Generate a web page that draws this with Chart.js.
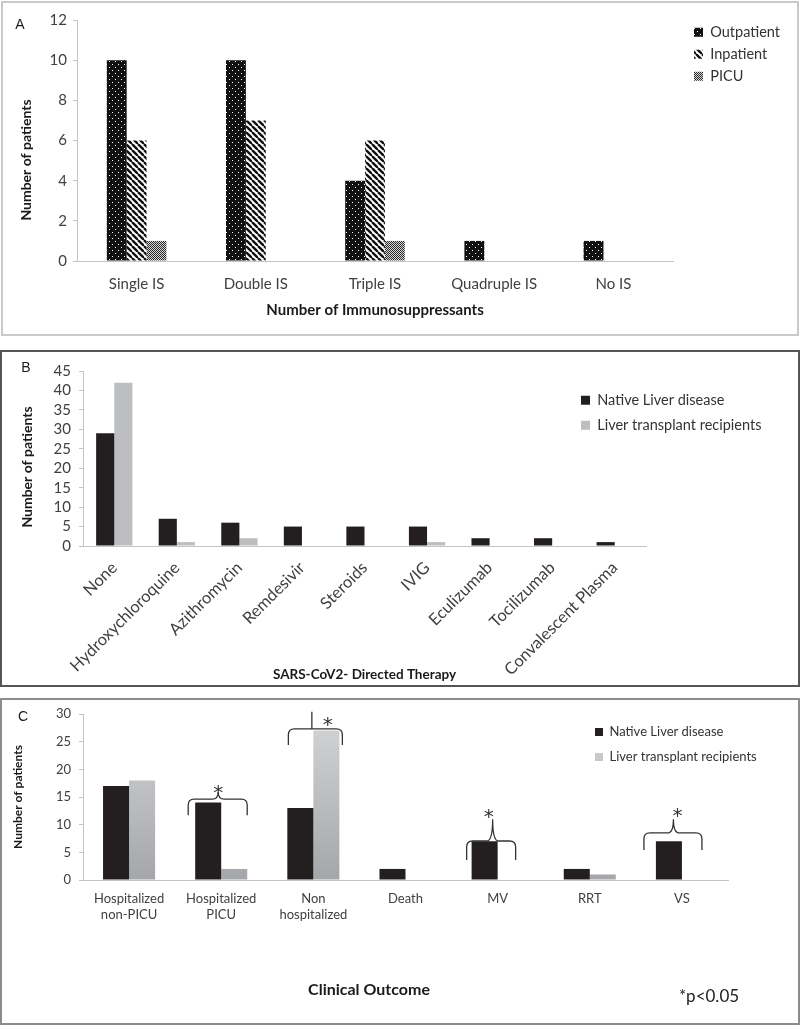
<!DOCTYPE html>
<html>
<head>
<meta charset="utf-8">
<script src="https://cdn.jsdelivr.net/npm/chart.js@4.4.1/dist/chart.umd.min.js"></script>
<style>
  body { margin: 0; background: #fff; }
  .panel { position: absolute; box-sizing: border-box; }
  canvas { position: absolute; left: 0; }
</style>
</head>
<body>
<div class="panel" style="left:1px;top:1px;width:798px;height:335px;border:2px solid #c9c9c9"></div>
<div class="panel" style="left:0;top:350px;width:800px;height:337px;border:2px solid #555"></div>
<div class="panel" style="left:0;top:698px;width:800px;height:327px;border:2px solid #8c8c8c"></div>
<canvas id="chartA" style="top:0" width="800" height="336"></canvas>
<canvas id="chartB" style="top:350px" width="800" height="338"></canvas>
<canvas id="chartC" style="top:698px" width="800" height="328"></canvas>
<script>
// Panel A - immunosuppressants
const isCategories = ['Single IS', 'Double IS', 'Triple IS', 'Quadruple IS', 'No IS'];
const outpatient = [10, 10, 4, 1, 1];
const inpatient = [6, 7, 6, 0, 0];
const picu = [1, 0, 1, 0, 0];

// Panel B - directed therapy
const therapies = ['None', 'Hydroxychloroquine', 'Azithromycin', 'Remdesivir', 'Steroids', 'IVIG', 'Eculizumab', 'Tocilizumab', 'Convalescent Plasma'];
const therapyNative = [29, 7, 6, 5, 5, 5, 2, 2, 1];
const therapyTransplant = [42, 1, 2, 0, 0, 1, 0, 0, 0];

// Panel C - clinical outcome
const outcomes = [['Hospitalized', 'non-PICU'], ['Hospitalized', 'PICU'], ['Non', 'hospitalized'], 'Death', 'MV', 'RRT', 'VS'];
const outcomeNative = [17, 14, 13, 2, 7, 2, 7];
const outcomeTransplant = [18, 2, 27, 0, 0, 1, 0];

// significance braces on panel C (category index + shape, offsets in px)
const braces = [
  { i: 1, l: -33, r: 26, m: -3, top: 14.6, end: 11.7, peak: 15.9, sx: -3, sy: 16.4, stem: false },
  { i: 2, l: -25, r: 29, m: -1.5, top: 27.3, end: 24.4, peak: 30.4, sx: 14.5, sy: 28.7, stem: true },
  { i: 4, l: -31, r: 18, m: -5, top: 7.05, end: 3.6, peak: 11.0, sx: -9, sy: 12.1, stem: false },
  { i: 6, l: -38, r: 20, m: -8.5, top: 8.5, end: 5.4, peak: 11.0, sx: -4.5, sy: 12.4, stem: false }
];

Chart.defaults.font.family = 'Lato, "Open Sans", sans-serif';
Chart.defaults.color = '#404040';
Chart.defaults.animation = false;

const BLACK = '#231f20';
const GRAY = '#bcbec0';
const AXIS = '#c4c4c4';

function makePattern(size, draw) {
  const c = document.createElement('canvas');
  c.width = c.height = size;
  const g = c.getContext('2d');
  draw(g, size);
  return g.createPattern(c, 'repeat');
}

const dots = makePattern(6, (g, s) => {
  g.fillStyle = '#111'; g.fillRect(0, 0, s, s);
  g.fillStyle = '#fff';
  g.fillRect(1, 1, 1, 1); g.fillRect(4, 4, 1, 1);
});
const stripes = makePattern(6, (g, s) => {
  g.fillStyle = '#fff'; g.fillRect(0, 0, s, s);
  g.strokeStyle = '#111'; g.lineWidth = 2.4;
  for (let k = -s; k <= s; k += s) {
    g.beginPath(); g.moveTo(k, 0); g.lineTo(k + s, s); g.stroke();
  }
});
const mesh = makePattern(2, (g) => {
  g.fillStyle = '#d6d6d6'; g.fillRect(0, 0, 2, 2);
  g.fillStyle = '#2a2a2a'; g.fillRect(0, 0, 1, 1); g.fillRect(1, 1, 1, 1);
});

function grayGradient(ctx) {
  const area = ctx.chart.chartArea;
  if (!area) return GRAY;
  const g = ctx.chart.ctx.createLinearGradient(0, area.top, 0, area.bottom);
  g.addColorStop(0, '#d4d5d7');
  g.addColorStop(1, '#a4a6a9');
  return g;
}

// legend placement, free text and braces
const overlay = {
  id: 'overlay',
  afterLayout(chart, args, opts) {
    const lg = chart.legend;
    if (lg && opts.legendAt) {
      const p = chart.options.plugins.legend.labels.padding;
      lg.left = opts.legendAt[0] - p;
      lg.top = opts.legendAt[1] - p;
      lg.right = chart.width;
      lg.bottom = chart.height;
    }
  },
  afterDatasetsDraw(chart, args, opts) {
    if (!opts.braces) return;
    const ctx = chart.ctx;
    const x = chart.scales.x, y = chart.scales.y;
    ctx.save();
    ctx.strokeStyle = '#333';
    ctx.lineWidth = 1.3;
    opts.braces.forEach(b => {
      const c = x.getPixelForValue(b.i);
      const xl = c + b.l, xr = c + b.r, xm = c + b.m;
      const yt = y.getPixelForValue(b.top), ye = y.getPixelForValue(b.end), yp = y.getPixelForValue(b.peak);
      const r = 6;
      ctx.beginPath();
      ctx.moveTo(xl, ye);
      ctx.lineTo(xl, yt + r);
      ctx.quadraticCurveTo(xl, yt, xl + r, yt);
      if (b.stem) {
        ctx.lineTo(xr - r, yt);
      } else {
        ctx.lineTo(xm - r, yt);
        ctx.quadraticCurveTo(xm, yt, xm, yp);
        ctx.quadraticCurveTo(xm, yt, xm + r, yt);
        ctx.lineTo(xr - r, yt);
      }
      ctx.quadraticCurveTo(xr, yt, xr, yt + r);
      ctx.lineTo(xr, ye);
      ctx.stroke();
      if (b.stem) {
        ctx.beginPath(); ctx.moveTo(xm, yt); ctx.lineTo(xm, yp); ctx.stroke();
      }
      ctx.fillStyle = '#333';
      ctx.font = '20px "DejaVu Sans"';
      ctx.textAlign = 'center';
      ctx.textBaseline = 'middle';
      ctx.fillText('*', c + b.sx, y.getPixelForValue(b.sy) + 5);
    });
    ctx.restore();
  },
  afterDraw(chart, args, opts) {
    const ctx = chart.ctx;
    (opts.texts || []).forEach(t => {
      ctx.save();
      ctx.translate(t.x, t.y);
      if (t.rot) ctx.rotate(t.rot);
      ctx.font = t.font;
      ctx.fillStyle = t.color || '#1a1a1a';
      ctx.textAlign = 'center';
      ctx.textBaseline = 'middle';
      ctx.fillText(t.text, 0, 0);
      ctx.restore();
    });
  }
};

function valueAxis(max, step, size, width, pad, title) {
  return {
    min: 0, max: max,
    ticks: { stepSize: step, autoSkip: false, font: { size: size }, padding: pad, color: '#404040' },
    grid: { drawOnChartArea: false, drawTicks: true, tickLength: 4, color: AXIS },
    border: { color: AXIS },
    title: title || { display: false },
    afterFit: s => { s.width = width; }
  };
}

function categoryAxis(size, height, pad, rotation, title) {
  return {
    grid: { display: false },
    border: { color: AXIS },
    ticks: {
      font: { size: size }, padding: pad, color: '#404040', autoSkip: false,
      maxRotation: rotation, minRotation: rotation
    },
    title: title || { display: false },
    afterFit: s => { s.height = height; }
  };
}

function legendOpts(size, box, pad) {
  return {
    position: 'chartArea', align: 'start',
    labels: { boxWidth: box, boxHeight: box, padding: pad, color: '#333', font: { size: size } }
  };
}

// Panel A
new Chart(document.getElementById('chartA'), {
  type: 'bar',
  data: {
    labels: isCategories,
    datasets: [
      { label: 'Outpatient', data: outpatient, backgroundColor: dots },
      { label: 'Inpatient', data: inpatient, backgroundColor: stripes },
      { label: 'PICU', data: picu, backgroundColor: mesh }
    ]
  },
  options: {
    responsive: false,
    layout: { padding: { left: 10, right: 127, top: 20, bottom: 0 } },
    datasets: { bar: { categoryPercentage: 0.5, barPercentage: 1 } },
    scales: {
      x: categoryAxis(15, 75, 6, 0, {
        display: true, text: 'Number of Immunosuppressants', color: '#1a1a1a',
        font: { size: 15, weight: 'bold' }, padding: { top: 0, bottom: 17 }
      }),
      y: valueAxis(12, 2, 15, 67, 6)
    },
    plugins: {
      legend: legendOpts(14.5, 9, 7.5),
      tooltip: { enabled: false },
      overlay: {
        legendAt: [694, 25],
        texts: [
          { text: 'A', x: 20, y: 25, font: '14px "Liberation Sans"' },
          { text: 'Number of patients', x: 26, y: 160, rot: -Math.PI / 2, font: 'bold 14px Lato' }
        ]
      }
    }
  },
  plugins: [overlay]
});

// Panel B
new Chart(document.getElementById('chartB'), {
  type: 'bar',
  data: {
    labels: therapies,
    datasets: [
      { label: 'Native Liver disease', data: therapyNative, backgroundColor: BLACK },
      { label: 'Liver transplant recipients', data: therapyTransplant, backgroundColor: GRAY }
    ]
  },
  options: {
    responsive: false,
    layout: { padding: { left: 10, right: 154, top: 21, bottom: 0 } },
    datasets: { bar: { categoryPercentage: 0.58, barPercentage: 1 } },
    scales: {
      x: categoryAxis(16.5, 142, 4, 45, {
        display: true, text: 'SARS-CoV2- Directed Therapy', color: '#1a1a1a',
        font: { size: 13.5, weight: 'bold' }, padding: { top: 0, bottom: 5 }
      }),
      y: valueAxis(45, 5, 15, 73, 8)
    },
    plugins: {
      legend: legendOpts(14.5, 9, 10.5),
      tooltip: { enabled: false },
      overlay: {
        legendAt: [581, 43],
        texts: [
          { text: 'B', x: 26, y: 18, font: '14px "Liberation Sans"' },
          { text: 'Number of patients', x: 27, y: 117, rot: -Math.PI / 2, font: 'bold 14px Lato' }
        ]
      }
    }
  },
  plugins: [overlay]
});

// Panel C
new Chart(document.getElementById('chartC'), {
  type: 'bar',
  data: {
    labels: outcomes,
    datasets: [
      { label: 'Native Liver disease', data: outcomeNative, backgroundColor: BLACK },
      { label: 'Liver transplant recipients', data: outcomeTransplant, backgroundColor: grayGradient }
    ]
  },
  options: {
    responsive: false,
    layout: { padding: { left: 4, right: 72, top: 16, bottom: 0 } },
    datasets: { bar: { categoryPercentage: 0.565, barPercentage: 1 } },
    scales: {
      x: categoryAxis(13, 146, 3, 0),
      y: valueAxis(30, 5, 13, 79, 8, {
        display: true, text: 'Number of patients', color: '#1a1a1a',
        font: { size: 12, weight: 'bold' }, padding: { top: 7, bottom: 0 }
      })
    },
    plugins: {
      legend: legendOpts(13, 8, 12),
      tooltip: { enabled: false },
      overlay: {
        legendAt: [595, 27.5],
        braces: braces,
        texts: [
          { text: 'C', x: 23, y: 19, font: '14px "Liberation Sans"' },
          { text: 'Clinical Outcome', x: 369, y: 292, font: 'bold 16px Lato' },
          { text: '*p<0.05', x: 709, y: 299, font: '17px Lato', color: '#222' }
        ]
      }
    }
  },
  plugins: [overlay]
});
</script>
</body>
</html>
